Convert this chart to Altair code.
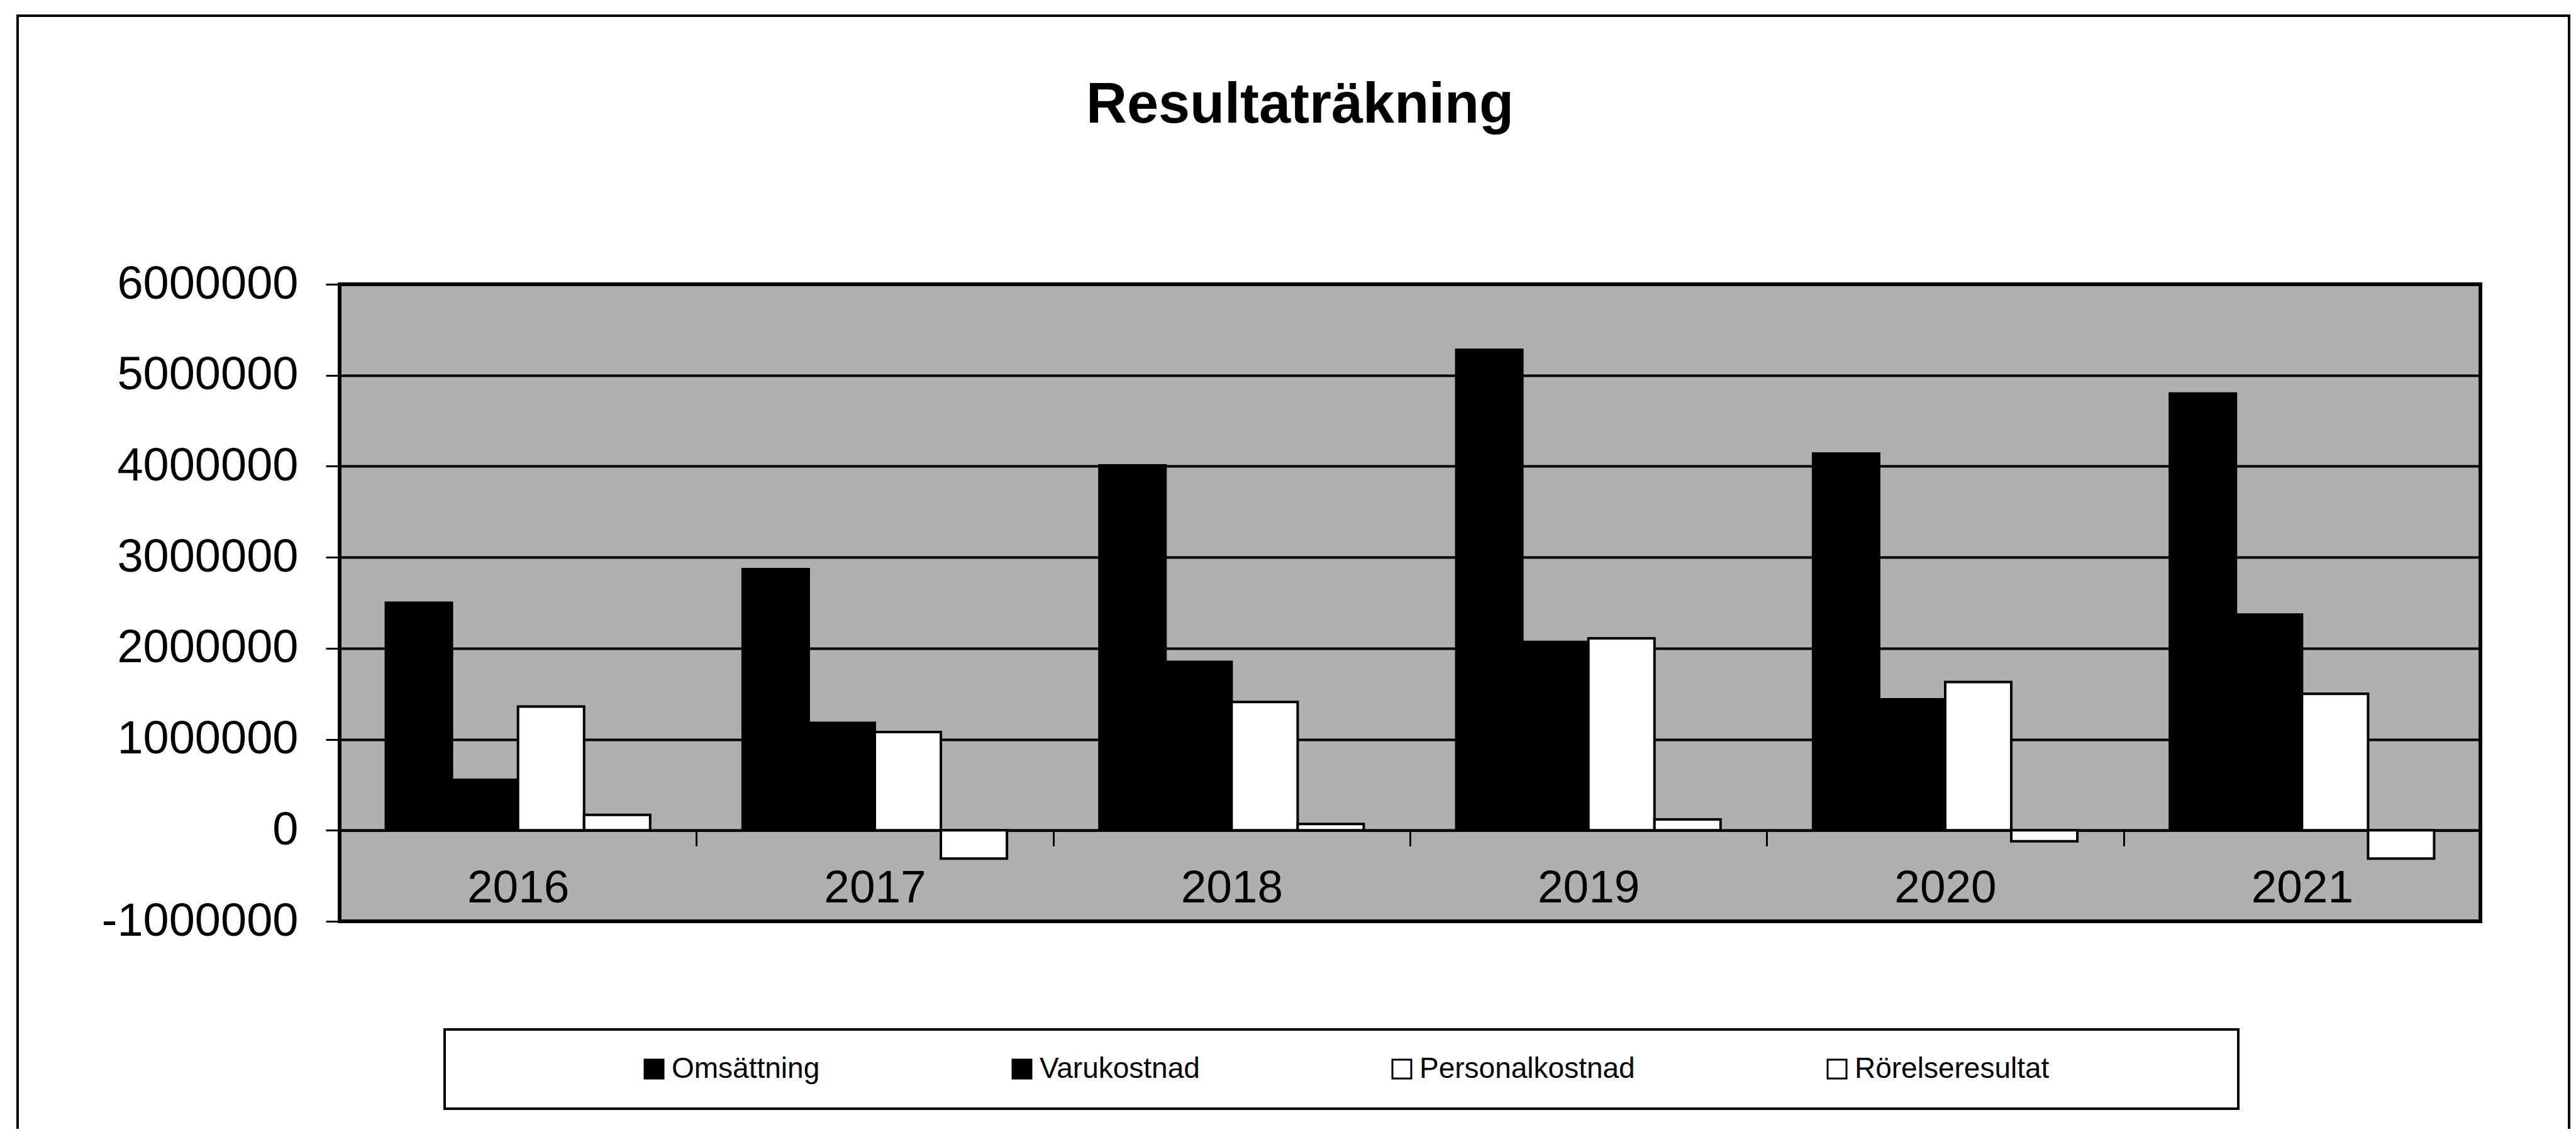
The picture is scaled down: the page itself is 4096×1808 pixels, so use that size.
import altair as alt
import pandas as pd

# ---- data ----
years = ["2016", "2017", "2018", "2019", "2020", "2021"]
series = ["Omsättning", "Varukostnad", "Personalkostnad", "Rörelseresultat"]
omsattning = [2500000, 2870000, 4010000, 5280000, 4140000, 4800000]
varukostnad = [555000, 1180000, 1850000, 2070000, 1440000, 2370000]
personalkostnad = [1360000, 1080000, 1410000, 2110000, 1630000, 1500000]
rorelseresultat = [170000, -310000, 70000, 120000, -120000, -310000]
series_colors = ["#000000", "#000000", "#ffffff", "#ffffff"]
y_ticks = [-1000000, 0, 1000000, 2000000, 3000000, 4000000, 5000000, 6000000]
title_text = ["Resultaträkning"]

rows = []
for name, vals in zip(series, [omsattning, varukostnad, personalkostnad, rorelseresultat]):
    for yr, v in zip(years, vals):
        rows.append({"year": yr, "series": name, "value": v})
df = pd.DataFrame(rows)

W, H = 3404, 1013
FONT = "Liberation Sans"

bars = alt.Chart(df).mark_bar(stroke="black", strokeWidth=4, opacity=1).encode(
    x=alt.X(
        "year:N",
        sort=years,
        scale=alt.Scale(paddingInner=0, paddingOuter=0),
        axis=alt.Axis(
            title=None,
            orient="bottom",
            offset=-H / 7.0,
            labelAngle=0,
            labelFont=FONT,
            labelFontSize=73,
            labelColor="black",
            labelPadding=31,
            labelLimit=1000,
            domain=True,
            domainColor="black",
            domainWidth=4,
            ticks=True,
            tickBand="extent",
            tickSize=25,
            tickWidth=3,
            tickColor="black",
            grid=False,
        ),
    ),
    xOffset=alt.XOffset(
        "series:N", sort=series, scale=alt.Scale(paddingInner=0, paddingOuter=0.7)
    ),
    y=alt.Y(
        "value:Q",
        scale=alt.Scale(domain=[-1000000, 6000000], nice=False, zero=False),
        axis=alt.Axis(
            title=None,
            values=y_ticks,
            labelExpr="datum.value < 0 ? '-' + format(-datum.value, 'd') : format(datum.value, 'd')",
            labelFont=FONT,
            labelFontSize=74,
            labelColor="black",
            labelPadding=44,
            labelLimit=1000,
            domain=False,
            ticks=True,
            tickSize=22,
            tickWidth=3,
            tickColor="black",
            grid=True,
            gridColor="black",
            gridWidth=4,
            gridOpacity=1,
        ),
    ),
    color=alt.Color(
        "series:N",
        sort=series,
        scale=alt.Scale(domain=series, range=series_colors),
        legend=alt.Legend(
            title=None,
            orient="none",
            legendX=477,
            legendY=1225,
            direction="horizontal",
            columns=4,
            columnPadding=298,
            gridAlign="each",
            padding=0,
            labelFont=FONT,
            labelFontSize=46,
            labelColor="black",
            labelOffset=5,
            labelLimit=1000,
            symbolType="square",
            symbolSize=900,
            symbolStrokeColor="black",
            symbolStrokeWidth=3,
            symbolOpacity=1,
        ),
    ),
)

title_df = pd.DataFrame({"text": title_text})
title = alt.Chart(title_df).mark_text(
    font=FONT, fontSize=90, fontWeight="bold", align="center",
    baseline="alphabetic", color="black"
).encode(x=alt.value(1527), y=alt.value(-257), text="text:N")

one = pd.DataFrame({"k": [0]})
legend_box = alt.Chart(one).mark_rect(filled=False, stroke="black", strokeWidth=4).encode(
    x=alt.value(167), x2=alt.value(3019), y=alt.value(1185), y2=alt.value(1311)
)
outer_box = alt.Chart(one).mark_rect(filled=False, stroke="black", strokeWidth=4).encode(
    x=alt.value(-512), x2=alt.value(3545), y=alt.value(-427), y2=alt.value(1420)
)

chart = alt.layer(outer_box, legend_box, bars, title).properties(
    width=W,
    height=H,
    padding={"left": 532, "top": 444, "right": 144, "bottom": 330},
    autosize=alt.AutoSizeParams(type="none"),
).configure(
    font=FONT,
    background="white",
    view=alt.ViewConfig(fill="#b0b0b0", stroke="black", strokeWidth=6),
)

chart.save("out.html", embed_options={"renderer": "svg", "actions": False})
